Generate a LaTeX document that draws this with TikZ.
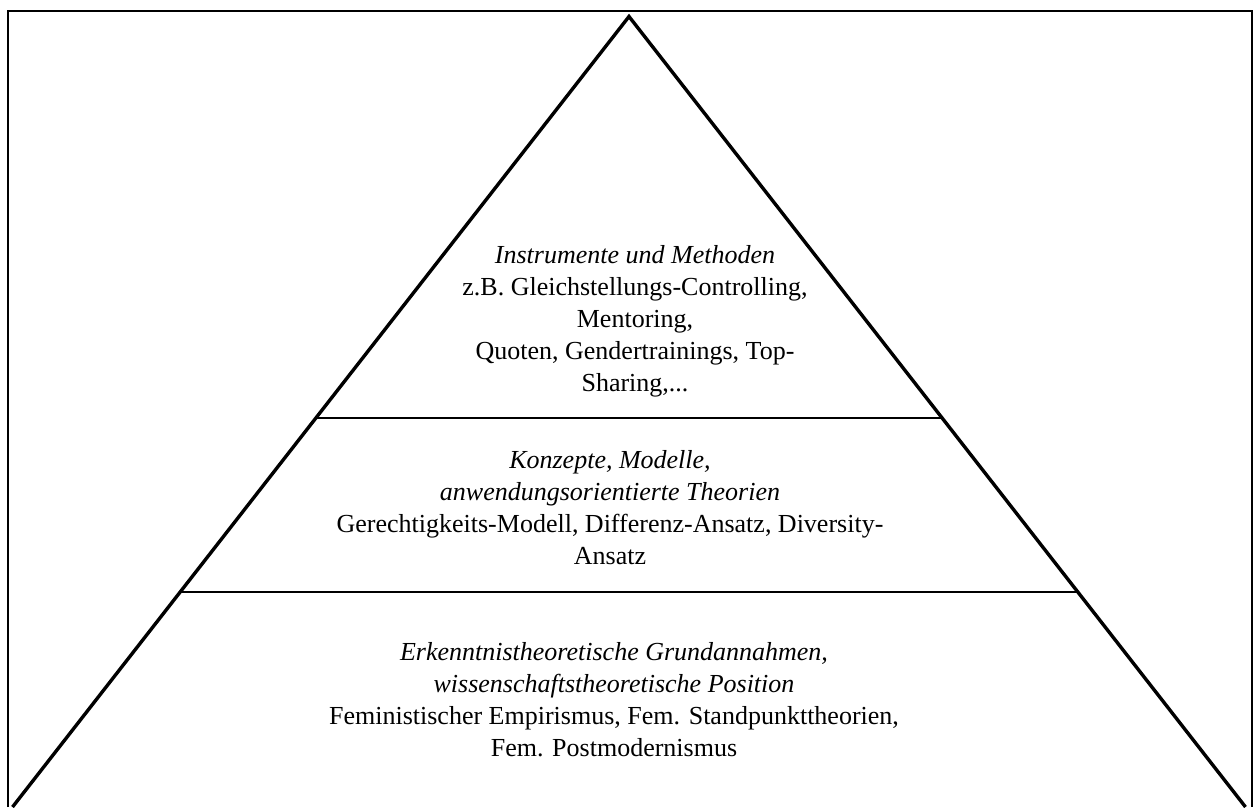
\documentclass[tikz,border=0pt]{standalone}
\usepackage{fontspec}
\setmainfont{Liberation Serif}
\usetikzlibrary{calc}
\begin{document}
\begin{tikzpicture}[x=1pt,y=-1pt,
  blocktext/.style={align=center, inner sep=0pt, anchor=north, font=\fontsize{26}{32}\selectfont}]
\useasboundingbox (0,0) rectangle (1258,807);
% frame, open at the bottom
\draw[line width=2pt] (8,807) -- (8,11) -- (1252,11) -- (1252,807);
% pyramid
\coordinate (top) at (629,16.5);
\coordinate (bl) at (12.5,807);
\coordinate (br) at (1245.5,807);
\draw[line width=3.4pt, line join=miter] (bl) -- (top) -- (br);
\draw[line width=2.2pt] ($(top)!0.5082!(bl)$) -- ($(top)!0.5082!(br)$);
\draw[line width=2.2pt] ($(top)!0.7282!(bl)$) -- ($(top)!0.7282!(br)$);
% levels
\node[blocktext] (methods) at (635,245) {\textit{Instrumente und Methoden}\\
  z.B. Gleichstellungs-Controlling,\\ Mentoring,\\
  Quoten, Gendertrainings, Top-\\ Sharing,...};
\node[blocktext] (concepts) at (610,450) {\textit{Konzepte, Modelle,}\\
  \textit{anwendungsorientierte Theorien}\\
  Gerechtigkeits-Modell, Differenz-Ansatz, Diversity-\\ Ansatz};
\node[blocktext] (theory) at (614,642) {\textit{Erkenntnistheoretische Grundannahmen,}\\
  \textit{wissenschaftstheoretische Position}\\
  Feministischer Empirismus, Fem. Standpunkttheorien,\\ Fem. Postmodernismus};
\end{tikzpicture}
\end{document}
